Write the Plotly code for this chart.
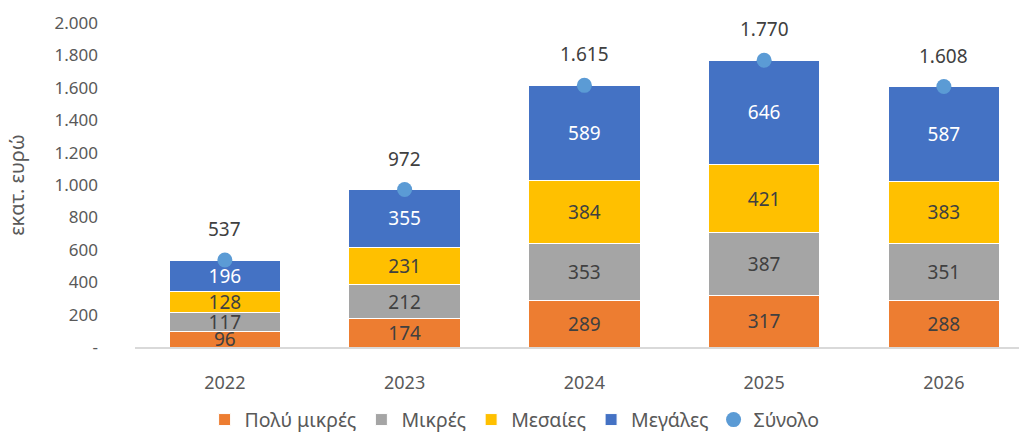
import plotly.graph_objects as go

years = ["2022", "2023", "2024", "2025", "2026"]
very_small = [96, 174, 289, 317, 288]
small = [117, 212, 353, 387, 351]
medium = [128, 231, 384, 421, 383]
large = [196, 355, 589, 646, 587]
totals = [537, 972, 1615, 1770, 1608]

tick_vals = [0, 200, 400, 600, 800, 1000, 1200, 1400, 1600, 1800, 2000]
tick_text = ["-", "200", "400", "600", "800", "1.000", "1.200", "1.400", "1.600", "1.800", "2.000"]


def gr_fmt(v):
    return f"{v:,}".replace(",", ".")


FONT = "Noto Sans"
DARK = "#404040"
GREY = "#595959"

series = [
    ("Πολύ μικρές", very_small, "#ED7D31", DARK),
    ("Μικρές", small, "#A5A5A5", DARK),
    ("Μεσαίες", medium, "#FFC000", DARK),
    ("Μεγάλες", large, "#4472C4", "white"),
]

fig = go.Figure()
for name, vals, color, tcolor in series:
    fig.add_trace(go.Bar(
        x=years, y=vals, name=name,
        marker=dict(color=color, line=dict(color="white", width=1)),
        width=0.62,
        text=[gr_fmt(v) for v in vals],
        textposition="inside", insidetextanchor="middle",
        constraintext="none", textangle=0,
        textfont=dict(family=FONT, size=19, color=tcolor),
        hoverinfo="skip",
    ))

fig.add_trace(go.Scatter(
    x=years, y=totals, name="Σύνολο", mode="markers",
    marker=dict(color="#5B9BD5", size=15),
    hoverinfo="skip",
))

# total labels above each stack (x given as category index)
for i, t in enumerate(totals):
    fig.add_annotation(
        x=i, y=t, xref="x", yref="y", text=gr_fmt(t), showarrow=False,
        yshift=31, font=dict(family=FONT, size=19, color=DARK),
    )

fig.update_layout(
    barmode="stack",
    width=1019, height=432,
    margin=dict(l=135, r=0, t=23, b=85, autoexpand=False),
    paper_bgcolor="white", plot_bgcolor="white",
    font=dict(family=FONT, size=16, color=GREY),
    legend=dict(
        orientation="h", x=0.505, xref="container", xanchor="center",
        y=-0.225, yanchor="middle",
        font=dict(family=FONT, size=19.5, color=GREY),
        itemwidth=30, traceorder="normal",
    ),
    showlegend=True,
)

fig.update_xaxes(
    range=[-0.5, 4.418], automargin=False,
    showgrid=False, showline=True, linecolor="#D9D9D9", linewidth=2,
    ticks="", ticklabelstandoff=18,
    tickfont=dict(family=FONT, size=18, color=GREY),
)
fig.update_yaxes(
    range=[0, 2000], tickvals=tick_vals, ticktext=tick_text, automargin=False,
    showgrid=False, zeroline=False, showline=False,
    ticks="", ticklabelstandoff=36,
    tickfont=dict(family=FONT, size=17, color=GREY),
    title=dict(text="εκατ. ευρώ", font=dict(family=FONT, size=20, color=GREY), standoff=24),
)

fig.write_html("out.html")
